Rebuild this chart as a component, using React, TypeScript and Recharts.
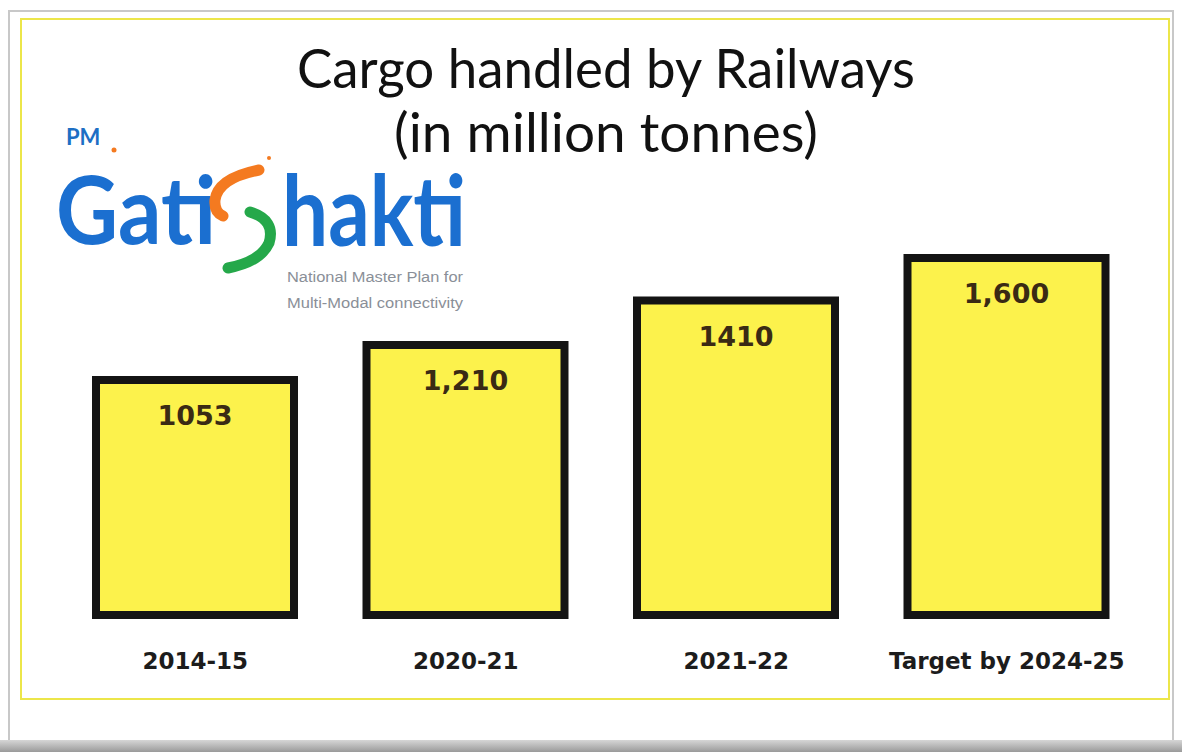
import React from 'react';
import { BarChart, Bar, XAxis, YAxis, LabelList } from 'recharts';

const categories = ['2014-15', '2020-21', '2021-22', 'Target by 2024-25'];
const cargo = [1053, 1210, 1410, 1600];
const valueLabels = ['1053', '1,210', '1410', '1,600'];

const data = categories.map((year, i) => ({ year, cargo: cargo[i], label: valueLabels[i] }));

const YearTick = (props: any) => {
  const { x, y, payload } = props;
  return (
    <text x={x} y={y + 46} textAnchor="middle" fontFamily="DejaVu Sans" fontWeight="bold" fontSize={23} fill="#1c1c1c">
      {payload.value}
    </text>
  );
};

const Overlay = () => (
  <svg width={1182} height={752} style={{ position: 'absolute', left: 0, top: 0, pointerEvents: 'none' }}>
    {/* title */}
    <text x={606} y={88} textAnchor="middle" fontFamily="Lato" fontSize={54} fill="#111" textLength={618} lengthAdjust="spacingAndGlyphs">
      Cargo handled by Railways
    </text>
    <text x={606} y={152} textAnchor="middle" fontFamily="Lato" fontSize={54} fill="#111" textLength={424} lengthAdjust="spacingAndGlyphs">
      (in million tonnes)
    </text>
    {/* logo */}
    <text x={66} y={145} fontFamily="Lato" fontWeight="bold" fontSize={22} fill="#1d6fc4">PM</text>
    <circle cx={114} cy={150} r={2.5} fill="#f47a20" />
    <text x={56} y={244} fontFamily="Lato" fontWeight="bold" fontSize={94} fill="#1b6fd0" textLength={160} lengthAdjust="spacingAndGlyphs">
      Gati
    </text>
    <path d="M 259 170 Q 218 178 215 200 Q 214 212 223 216" stroke="#f47a20" strokeWidth={11} fill="none" strokeLinecap="round" />
    <circle cx={269} cy={158} r={2} fill="#f47a20" />
    <path d="M 250 212 Q 276 220 269 243 Q 260 262 228 268" stroke="#25a84a" strokeWidth={11} fill="none" strokeLinecap="round" />
    <text x={282} y={246} fontFamily="Lato" fontWeight="bold" fontSize={98} fill="#1b6fd0" textLength={184} lengthAdjust="spacingAndGlyphs">
      hakti
    </text>
    <text x={287} y={282} fontFamily="Liberation Sans" fontSize={14} fill="#8a8f98" textLength={176} lengthAdjust="spacingAndGlyphs">
      National Master Plan for
    </text>
    <text x={287} y={308} fontFamily="Liberation Sans" fontSize={14} fill="#8a8f98" textLength={176} lengthAdjust="spacingAndGlyphs">
      Multi-Modal connectivity
    </text>
  </svg>
);

export default function App() {
  return (
    <div style={{ position: 'absolute', left: 0, top: 0, width: 1182, height: 752, background: '#fff', overflow: 'hidden' }}>
      {/* photo frame and slide border */}
      <div style={{ position: 'absolute', left: 8, top: 10, width: 1166, height: 732, border: '2px solid #c8c8c8', boxSizing: 'border-box' }} />
      <div style={{ position: 'absolute', left: 0, top: 740, width: 1182, height: 12, background: 'linear-gradient(#d6d6d6, #9a9a9a)' }} />
      <div style={{ position: 'absolute', left: 20, top: 18, width: 1150, height: 682, border: '2px solid #ece64a', boxSizing: 'border-box' }} />
      <div style={{ position: 'absolute', left: 0, top: 0 }}>
        <BarChart width={1182} height={752} data={data} margin={{ top: 258, right: 40, bottom: 77, left: 60 }}>
          <XAxis dataKey="year" axisLine={false} tickLine={false} height={60} interval={0} tick={<YearTick />} />
          <YAxis hide domain={[0, 1600]} />
          <Bar dataKey="cargo" fill="#fcf24c" stroke="#141414" strokeWidth={8} barSize={198} isAnimationActive={false}>
            <LabelList dataKey="label" position="insideTop" offset={26} fontFamily="DejaVu Sans" fontWeight="bold" fontSize={27} fill="#3a2a14" />
          </Bar>
        </BarChart>
      </div>
      <Overlay />
    </div>
  );
}
